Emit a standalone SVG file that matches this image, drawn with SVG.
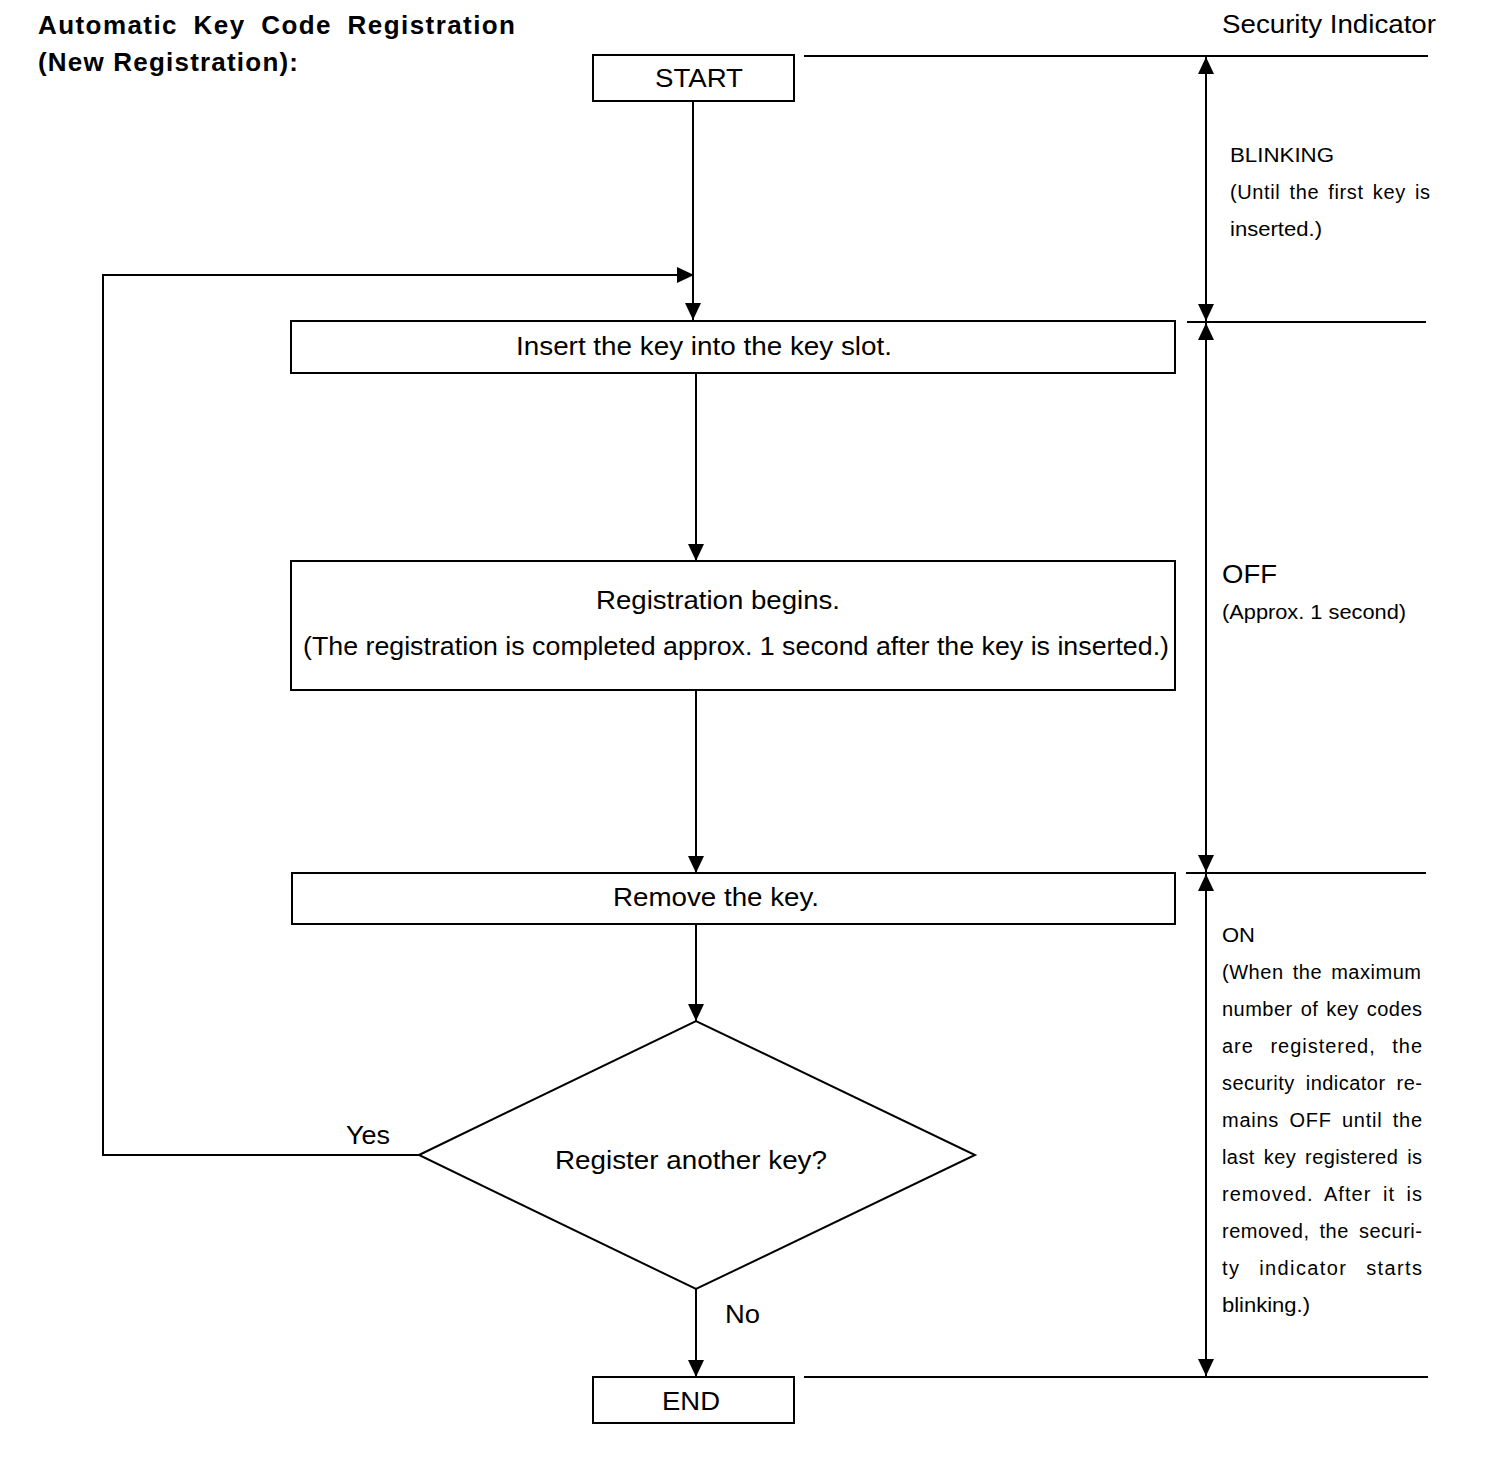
<svg xmlns="http://www.w3.org/2000/svg" width="1504" height="1458" viewBox="0 0 1504 1458">
<style>
.box{fill:#fff;stroke:#000;stroke-width:2}
.ln{fill:none;stroke:#000;stroke-width:2}
.t{font-family:"Liberation Sans",Arial,sans-serif;fill:#000}
.m{font-size:26px;text-anchor:start}
.s{font-size:20px}
.b{font-weight:bold;font-size:26px}
</style>
<defs>
<marker id="ah" markerUnits="userSpaceOnUse" markerWidth="17" markerHeight="16" refX="17" refY="8" orient="auto-start-reverse" viewBox="0 0 17 16">
<path d="M0,0 L17,8 L0,16 z" fill="#000"/>
</marker>
</defs>
<rect width="1504" height="1458" fill="#fff"/>
<g id="title">
<text class="t b" x="38" y="34" word-spacing="7" textLength="477" lengthAdjust="spacing">Automatic Key Code Registration</text>
<text class="t b" x="38" y="71" textLength="260" lengthAdjust="spacing">(New Registration):</text>
</g>
<g id="connectors">
<line class="ln" x1="693" y1="101" x2="693" y2="320" marker-end="url(#ah)"/>
<path class="ln" d="M419,1155 H103 V275 H694" marker-end="url(#ah)"/>
<line class="ln" x1="696" y1="373" x2="696" y2="561" marker-end="url(#ah)"/>
<line class="ln" x1="696" y1="690" x2="696" y2="873" marker-end="url(#ah)"/>
<line class="ln" x1="696" y1="924" x2="696" y2="1021" marker-end="url(#ah)" stroke-width="3"/>
<line class="ln" x1="696" y1="1289" x2="696" y2="1377" marker-end="url(#ah)"/>
<text class="t m" x="346" y="1144" textLength="44" lengthAdjust="spacingAndGlyphs">Yes</text>
<text class="t m" x="725" y="1323" textLength="35" lengthAdjust="spacingAndGlyphs">No</text>
</g>
<g id="start">
<rect class="box" x="593" y="55" width="201" height="46"/>
<text class="t m" x="655" y="87" textLength="88" lengthAdjust="spacingAndGlyphs">START</text>
</g>
<g id="insert">
<rect class="box" x="291" y="321" width="884" height="52"/>
<text class="t m" x="516" y="355" textLength="376" lengthAdjust="spacingAndGlyphs">Insert the key into the key slot.</text>
</g>
<g id="registration">
<rect class="box" x="291" y="561" width="884" height="129"/>
<text class="t m" x="596" y="609" textLength="244" lengthAdjust="spacingAndGlyphs">Registration begins.</text>
<text class="t m" x="303" y="655" textLength="866" lengthAdjust="spacingAndGlyphs">(The registration is completed approx. 1 second after the key is inserted.)</text>
</g>
<g id="remove">
<rect class="box" x="292" y="873" width="883" height="51"/>
<text class="t m" x="613" y="906" textLength="206" lengthAdjust="spacingAndGlyphs">Remove the key.</text>
</g>
<g id="decision">
<polygon class="box" points="419,1155 696,1021 975,1155 696,1289"/>
<text class="t m" x="555" y="1169" textLength="272" lengthAdjust="spacingAndGlyphs">Register another key?</text>
</g>
<g id="end">
<rect class="box" x="593" y="1377" width="201" height="46"/>
<text class="t m" x="662" y="1410" textLength="58" lengthAdjust="spacingAndGlyphs">END</text>
</g>
<g id="indicator">
<text class="t" font-size="25" x="1222" y="33" textLength="214" lengthAdjust="spacingAndGlyphs">Security Indicator</text>
<line class="ln" x1="804" y1="56" x2="1428" y2="56"/>
<line class="ln" x1="1187" y1="322" x2="1426" y2="322"/>
<line class="ln" x1="1186" y1="873" x2="1426" y2="873"/>
<line class="ln" x1="804" y1="1377" x2="1428" y2="1377"/>
<line class="ln" x1="1206" y1="57" x2="1206" y2="321" marker-start="url(#ah)" marker-end="url(#ah)"/>
<line class="ln" x1="1206" y1="323" x2="1206" y2="872" marker-start="url(#ah)" marker-end="url(#ah)"/>
<line class="ln" x1="1206" y1="874" x2="1206" y2="1376" marker-start="url(#ah)" marker-end="url(#ah)"/>
<text class="t s" x="1230" y="162" textLength="104" lengthAdjust="spacingAndGlyphs">BLINKING</text>
<text class="t s" x="1230" y="199" word-spacing="3" textLength="200" lengthAdjust="spacing">(Until the first key is</text>
<text class="t s" x="1230" y="236" textLength="92" lengthAdjust="spacingAndGlyphs">inserted.)</text>
<text class="t" font-size="25" x="1222" y="583" textLength="55" lengthAdjust="spacingAndGlyphs">OFF</text>
<text class="t s" x="1222" y="619" textLength="184" lengthAdjust="spacingAndGlyphs">(Approx. 1 second)</text>
<text class="t s" x="1222" y="942" textLength="33" lengthAdjust="spacingAndGlyphs">ON</text>
<text class="t s" x="1222" y="979" word-spacing="3" textLength="199" lengthAdjust="spacing">(When the maximum</text>
<text class="t s" x="1222" y="1016" word-spacing="2" textLength="200" lengthAdjust="spacing">number of key codes</text>
<text class="t s" x="1222" y="1053" word-spacing="10" textLength="200" lengthAdjust="spacing">are registered, the</text>
<text class="t s" x="1222" y="1090" word-spacing="5" textLength="200" lengthAdjust="spacing">security indicator re-</text>
<text class="t s" x="1222" y="1127" word-spacing="4" textLength="200" lengthAdjust="spacing">mains OFF until the</text>
<text class="t s" x="1222" y="1164" word-spacing="3" textLength="200" lengthAdjust="spacing">last key registered is</text>
<text class="t s" x="1222" y="1201" word-spacing="5" textLength="200" lengthAdjust="spacing">removed. After it is</text>
<text class="t s" x="1222" y="1238" word-spacing="4" textLength="200" lengthAdjust="spacing">removed, the securi-</text>
<text class="t s" x="1222" y="1275" word-spacing="12" textLength="200" lengthAdjust="spacing">ty indicator starts</text>
<text class="t s" x="1222" y="1312" textLength="88" lengthAdjust="spacingAndGlyphs">blinking.)</text>
</g>
</svg>
